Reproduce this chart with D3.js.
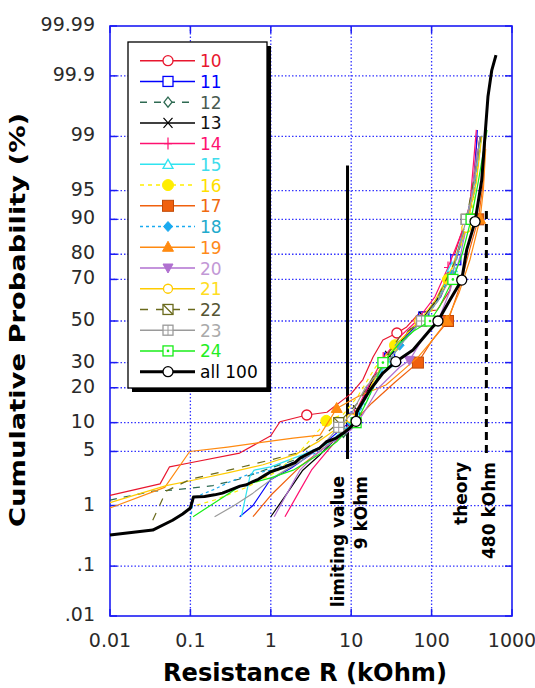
<!DOCTYPE html>
<html>
<head>
<meta charset="utf-8">
<script src="https://cdn.jsdelivr.net/npm/d3@7"></script>
<style>
body { margin: 0; background: #fff; }
text { font-family: "DejaVu Sans", sans-serif; }
</style>
</head>
<body>
<svg id="chart" width="535" height="688"></svg>
<script>
// resistance R in kOhm, cumulative probability in %, third item = symbol drawn on that point
var s10 = [[0.01,1.4],[0.042,2.0],[0.055,3.3],[0.1,3.7],[0.41,4.8],[1.0,7.4],[1.3,10.2],[2.8,11.8,1],[5.0,12.5],[7.9,16],[10,18],[14,23],[18.7,32.5],[24.8,40.5],[37,44,1],[49,47],[72,54.5],[117,55.5],[169,65],[184,78],[230,86],[280,90,1],[330,96],[370,99]];
var s11 = [[0.41,0.68],[0.6,1.0],[0.98,2.25],[1.8,3.2],[3,4.5],[5,6.5],[8,9],[11,11,1],[16,20],[30,32,1],[50,43],[80,52,1],[130,62],[200,78,1],[280,91],[340,96],[370,99.2]];
var s12 = [[0.01,1.2],[0.034,1.6],[0.06,1.65],[0.1,1.75],[0.19,1.9],[0.4,2.3],[1,3.2],[2,4.0],[4,5.5],[8,8,1],[12,12],[20,25],[35,37,1],[60,48],[100,57],[170,72,1],[250,86],[330,94],[400,98.5]];
var s13 = [[1.0,0.68],[1.6,1.5],[2.5,3],[4,4.5],[6,6.5],[9,9],[12,13,1],[18,22],[30,33,1],[50,44],[80,52,1],[130,63],[200,78],[280,90,1],[350,97],[400,99]];
var s14 = [[1.5,0.68],[2.2,1.5],[3.2,3],[5,5],[8,8],[11,12,1],[16,20],[25,32,1],[40,42],[65,50,1],[110,62],[160,75,1],[230,86],[300,93],[360,99.2]];
var s15 = [[0.43,0.68],[0.55,2.5],[0.62,3.0],[1.0,3.3],[2.5,4.6],[5,6],[8,8.5],[11,10,1],[16,18],[28,30,1],[45,40],[75,50,1],[120,60],[180,75,1],[260,88],[340,96],[420,99]];
var s16 = [[0.045,0.5],[0.08,0.75],[0.1,0.95],[0.2,1.2],[0.5,1.8],[1.2,2.9],[2.3,5.0],[4,8.5],[4.9,10.4,1],[8,12],[12,17],[20,28],[35,38,1],[60,47],[100,55],[160,70,1],[250,85],[330,93],[400,98.5]];
var s17 = [[0.6,0.68],[1.0,1.4],[2.3,3.3],[5.5,6.2],[10,9.5],[18,15],[35,22],[67.6,30,1],[100,40],[160,50,1],[230,68],[300,82],[380,90,1],[440,96],[470,99]];
var s18 = [[0.1,0.6],[0.11,1.3],[0.2,1.7],[0.3,2.1],[0.5,2.6],[1,3.0],[2,3.8],[4,5.0],[7,7],[10,10,1],[15,15],[25,27],[40,38,1],[70,48],[110,58],[180,72,1],[260,87],[340,95],[420,99]];
var s19 = [[0.01,0.92],[0.048,1.8],[0.098,5.0],[0.29,5.6],[1.9,7.0],[4.1,7.5],[6.6,13.5,1],[12,17],[27,21],[45,27],[70,33],[100,40],[155,50,1],[220,64],[300,78],[400,90,1],[440,95],[470,98.5]];
var s20 = [[1.1,0.68],[1.6,1.5],[2.3,3],[3.5,4.5],[6,6.5],[10,8.5],[14,12],[22,20],[40,28],[53,31,1],[80,42],[120,50,1],[170,65],[230,80],[300,92],[370,98.5]];
var s21 = [[0.01,1.1],[0.05,1.9],[0.1,2.2],[0.3,2.8],[0.8,3.5],[2,4.6],[4,6.5],[7,9],[10,11,1],[15,17],[25,30,1],[40,40],[70,50,1],[110,60],[180,75],[270,88,1],[360,96],[420,99]];
var s22 = [[0.034,0.6],[0.05,1.6],[0.1,2.3],[0.3,3.0],[1,4.0],[2.5,5],[5,8],[7,10,1],[12,15],[22,28],[40,42],[75,50,1],[120,62],[200,78],[270,90,1],[350,97],[410,99]];
var s23 = [[0.2,0.68],[0.35,1.0],[0.6,1.5],[1.2,2.6],[2.5,4],[4.5,6],[7,9,1],[10,12],[15,20],[25,28],[45,40],[75,50,1],[120,60],[180,72],[270,90,1],[330,95],[400,99]];
var s24 = [[0.108,0.68],[0.2,1.1],[0.41,1.85],[1.0,2.4],[1.9,3.0],[4.4,4.9],[6.6,6.4],[9.7,9.0],[11.5,10,1],[16,16],[20,22],[24.8,30,1],[40,39],[60,45],[95.5,50,1],[125,57],[184,70,1],[240,80],[310,90,1],[380,96],[490,99.2]];
var sAll = [[0.01,0.35],[0.034,0.42],[0.06,0.6],[0.08,0.75],[0.1,0.92],[0.109,1.32],[0.15,1.35],[0.2,1.42],[0.25,1.5],[0.3,1.62],[0.414,1.87],[0.5,1.95],[0.6,2.15],[0.7,2.3],[0.85,2.6],[1.0,2.87],[1.5,3.3],[2.0,3.7],[2.31,4.2],[3.3,5.0],[4.0,5.4],[4.95,6.4],[6.5,7.0],[8.37,8.1],[9.67,8.9],[11.5,10.3,1],[11.7,12.6],[17.1,19.2],[24.8,25.6],[35.8,30.4,1],[58.7,35.7],[95.5,45.5],[120,50,1],[169,60.4],[237,69.7,1],[273,81.5],[347,89.5,1],[420,96.2],[461,99.0],[503,99.77],[559,99.92],[632,99.96]];

var seriesNames = ["10","11","12","13","14","15","16","17","18","19","20","21","22","23","24","all 100"];
var seriesData  = [s10,s11,s12,s13,s14,s15,s16,s17,s18,s19,s20,s21,s22,s23,s24,sAll];

var xTicks = [0.01, 0.1, 1, 10, 100, 1000];
var xTickLabels = ["0.01", "0.1", "1", "10", "100", "1000"];
var yTicks = [0.01, 0.1, 1, 5, 10, 20, 30, 50, 70, 80, 90, 95, 99, 99.9, 99.99];
var yTickLabels = [".01", ".1", "1", "5", "10", "20", "30", "50", "70", "80", "90", "95", "99", "99.9", "99.99"];

// vertical markers: R value, probability span, labels
var refR = [9, 480];
var refSpan = [[4.1, 97.5], [4.8, 92.5]];
var refLabels = [["limiting value", "9 kOhm"], ["theory", "480 kOhm"]];

// styles for each series (same order as seriesNames)
var styles = [
    {color: "#e8162e", text: "#e8162e", dash: null,  sym: "circle"},
    {color: "#0000ff", text: "#0000ff", dash: null,  sym: "square"},
    {color: "#2e6a52", text: "#4a5a50", dash: "7,7", sym: "diamond"},
    {color: "#000000", text: "#111111", dash: null,  sym: "x"},
    {color: "#ff1070", text: "#ff1070", dash: null,  sym: "plus"},
    {color: "#30e4f0", text: "#40dcec", dash: null,  sym: "triangle"},
    {color: "#ffee00", text: "#ffe000", dash: "4,4", sym: "dot"},
    {color: "#f0600e", text: "#f06a10", dash: null,  sym: "fsquare"},
    {color: "#1aaaf0", text: "#22aacc", dash: "3,3", sym: "fdiamond"},
    {color: "#ff8a10", text: "#ff8a1a", dash: null,  sym: "ftriangle"},
    {color: "#b070d0", text: "#c298d6", dash: null,  sym: "itriangle"},
    {color: "#ffcc00", text: "#ffdd22", dash: null,  sym: "ocircle"},
    {color: "#6a6a1c", text: "#555533", dash: "8,8", sym: "slashsquare"},
    {color: "#9a9a9a", text: "#aaaaaa", dash: null,  sym: "crosssquare"},
    {color: "#18ee18", text: "#22ee22", dash: null,  sym: "dotsquare"},
    {color: "#000000", text: "#000000", dash: null,  sym: "circle", width: 3}
];

// inverse normal CDF (Acklam) for the probability axis
function probit(p) {
    var a = [-3.969683028665376e+01, 2.209460984245205e+02, -2.759285104469687e+02, 1.383577518672690e+02, -3.066479806614716e+01, 2.506628277459239e+00];
    var b = [-5.447609879822406e+01, 1.615858368580409e+02, -1.556989798598866e+02, 6.680131188771972e+01, -1.328068155288572e+01];
    var c = [-7.784894002430293e-03, -3.223964580411365e-01, -2.400758277161838e+00, -2.549732539343734e+00, 4.374664141464968e+00, 2.938163982698783e+00];
    var d = [7.784695709041462e-03, 3.224671290700398e-01, 2.445134137142996e+00, 3.754408661907416e+00];
    var pl = 0.02425, q, r;
    if (p < pl) {
        q = Math.sqrt(-2 * Math.log(p));
        return (((((c[0]*q+c[1])*q+c[2])*q+c[3])*q+c[4])*q+c[5]) / ((((d[0]*q+d[1])*q+d[2])*q+d[3])*q+1);
    }
    if (p > 1 - pl) {
        q = Math.sqrt(-2 * Math.log(1 - p));
        return -(((((c[0]*q+c[1])*q+c[2])*q+c[3])*q+c[4])*q+c[5]) / ((((d[0]*q+d[1])*q+d[2])*q+d[3])*q+1);
    }
    q = p - 0.5; r = q * q;
    return (((((a[0]*r+a[1])*r+a[2])*r+a[3])*r+a[4])*r+a[5])*q / (((((b[0]*r+b[1])*r+b[2])*r+b[3])*r+b[4])*r+1);
}

var plotL = 110, plotR = 512, plotT = 26, plotB = 616;
var x = d3.scaleLog().domain([0.01, 1000]).range([plotL, plotR]);
var zScale = d3.scaleLinear().domain([probit(0.0001), probit(0.9999)]).range([plotB, plotT]);
var y = function(p) { return zScale(probit(p / 100)); };

var svg = d3.select("#chart");
var gridColor = "#3434ff", frameColor = "#1c1cf4";

// grid
svg.append("g").selectAll("line.vg")
    .data(xTicks.slice(1, -1)).enter().append("line")
    .attr("x1", function(d){ return x(d); }).attr("x2", function(d){ return x(d); })
    .attr("y1", plotT).attr("y2", plotB)
    .attr("stroke", gridColor).attr("stroke-width", 1.3).attr("stroke-dasharray", "1.5,2");
svg.append("g").selectAll("line.hg")
    .data(yTicks.slice(1, -1)).enter().append("line")
    .attr("y1", function(d){ return y(d); }).attr("y2", function(d){ return y(d); })
    .attr("x1", plotL).attr("x2", plotR)
    .attr("stroke", gridColor).attr("stroke-width", 1.3).attr("stroke-dasharray", "1.5,2");

// ticks inside the frame
var tk = 7;
xTicks.forEach(function(d){
    svg.append("line").attr("x1", x(d)).attr("x2", x(d)).attr("y1", plotB).attr("y2", plotB - tk)
        .attr("stroke", frameColor).attr("stroke-width", 1.5);
    svg.append("line").attr("x1", x(d)).attr("x2", x(d)).attr("y1", plotT).attr("y2", plotT + tk)
        .attr("stroke", frameColor).attr("stroke-width", 1.5);
});
yTicks.forEach(function(d){
    svg.append("line").attr("x1", plotL).attr("x2", plotL + tk).attr("y1", y(d)).attr("y2", y(d))
        .attr("stroke", frameColor).attr("stroke-width", 1.5);
    svg.append("line").attr("x1", plotR).attr("x2", plotR - tk).attr("y1", y(d)).attr("y2", y(d))
        .attr("stroke", frameColor).attr("stroke-width", 1.5);
});

svg.append("rect").attr("x", plotL).attr("y", plotT).attr("width", plotR - plotL).attr("height", plotB - plotT)
    .attr("fill", "none").attr("stroke", frameColor).attr("stroke-width", 1.6);

// tick labels
svg.append("g").selectAll("text")
    .data(xTicks).enter().append("text")
    .attr("x", function(d){ return x(d); }).attr("y", 647)
    .attr("text-anchor", "middle").attr("font-size", 19).attr("fill", "#2a2a2a")
    .text(function(d, i){ return xTickLabels[i]; });
svg.append("g").selectAll("text")
    .data(yTicks).enter().append("text")
    .attr("x", 95).attr("y", function(d){ return y(d) + 5; })
    .attr("text-anchor", "end").attr("font-size", 19).attr("fill", "#2a2a2a")
    .text(function(d, i){ return yTickLabels[i]; });

// axis titles
svg.append("text").attr("x", 305).attr("y", 681).attr("text-anchor", "middle")
    .attr("font-size", 24).attr("font-weight", "bold")
    .attr("textLength", 284).attr("lengthAdjust", "spacingAndGlyphs")
    .text("Resistance R (kOhm)");
svg.append("text").attr("transform", "translate(25,320) rotate(-90)").attr("text-anchor", "middle")
    .attr("font-size", 22).attr("font-weight", "bold")
    .attr("textLength", 414).attr("lengthAdjust", "spacingAndGlyphs")
    .text("Cumulative Probability (%)");

// symbols
function symbol(g, type, color, cx, cy) {
    var s = g.append("g").attr("transform", "translate(" + cx + "," + cy + ")");
    var open = {fill: "#fff", stroke: color, "stroke-width": 1.3};
    var solid = {fill: color, stroke: color, "stroke-width": 1};
    function apply(sel, o) { for (var k in o) sel.attr(k, o[k]); return sel; }
    if (type === "circle") apply(s.append("circle").attr("r", 5), open);
    else if (type === "ocircle") apply(s.append("circle").attr("r", 4.5), open);
    else if (type === "dot") apply(s.append("circle").attr("r", 5.5), solid);
    else if (type === "square" || type === "slashsquare" || type === "crosssquare" || type === "dotsquare") {
        apply(s.append("rect").attr("x", -5).attr("y", -5).attr("width", 10).attr("height", 10), open);
        if (type === "slashsquare") s.append("path").attr("d", "M-5,-5L5,5").attr("stroke", color).attr("stroke-width", 1.2);
        if (type === "crosssquare") s.append("path").attr("d", "M0,-5V5M-5,0H5").attr("stroke", color).attr("stroke-width", 1);
        if (type === "dotsquare") s.append("circle").attr("r", 1.3).attr("fill", color);
    }
    else if (type === "fsquare") apply(s.append("rect").attr("x", -5.5).attr("y", -5.5).attr("width", 11).attr("height", 11), solid).attr("stroke", "#c04a08");
    else if (type === "diamond") apply(s.append("path").attr("d", "M0,-5L4,0L0,5L-4,0Z"), open);
    else if (type === "fdiamond") apply(s.append("path").attr("d", "M0,-5L4.5,0L0,5L-4.5,0Z"), solid);
    else if (type === "triangle") apply(s.append("path").attr("d", "M0,-5L5,4L-5,4Z"), open);
    else if (type === "ftriangle") apply(s.append("path").attr("d", "M0,-6L5.5,4L-5.5,4Z"), solid);
    else if (type === "itriangle") apply(s.append("path").attr("d", "M0,5L5,-4L-5,-4Z"), solid);
    else if (type === "x") s.append("path").attr("d", "M-4.5,-5L4.5,5M4.5,-5L-4.5,5").attr("stroke", color).attr("stroke-width", 1.2);
    else if (type === "plus") s.append("path").attr("d", "M0,-6V6M-4,0H4").attr("stroke", color).attr("stroke-width", 1.2);
}

// reference lines
refR.forEach(function(r, i){
    var ln = svg.append("line").attr("x1", x(r)).attr("x2", x(r))
        .attr("y1", y(refSpan[i][0])).attr("y2", y(refSpan[i][1]))
        .attr("stroke", "#000").attr("stroke-width", 3);
    if (i === 1) ln.attr("stroke-dasharray", "8,5");
});

// series lines
var line = d3.line()
    .x(function(d){ return x(d[0]); })
    .y(function(d){ return y(d[1]); });

seriesData.forEach(function(data, i){
    var st = styles[i];
    var g = svg.append("g").attr("class", "series");
    g.append("path").datum(data)
        .attr("d", line)
        .attr("fill", "none")
        .attr("stroke", st.color)
        .attr("stroke-width", st.width || 1.2)
        .attr("stroke-linejoin", "round")
        .attr("stroke-dasharray", st.dash);
    data.forEach(function(d){
        if (d[2]) symbol(g, st.sym, st.color, x(d[0]), y(d[1]));
    });
});

// reference labels
refR.forEach(function(r, i){
    var offs = i === 0 ? [-4, 19] : [-19, 9];
    var yTop = i === 0 ? 476 : 462;
    refLabels[i].forEach(function(t, j){
        svg.append("text")
            .attr("transform", "translate(" + (x(r) + offs[j]) + "," + yTop + ") rotate(-90)")
            .attr("text-anchor", "end")
            .attr("font-size", 17).attr("font-weight", "bold")
            .text(t);
    });
});

// legend
var lg = svg.append("g");
lg.append("rect").attr("x", 132).attr("y", 46).attr("width", 139).attr("height", 346).attr("fill", "#000");
lg.append("rect").attr("x", 128).attr("y", 42).attr("width", 139).attr("height", 346)
    .attr("fill", "#fff").attr("stroke", "#000").attr("stroke-width", 1.3);

seriesNames.forEach(function(name, i){
    var st = styles[i];
    var ry = 60.7 + i * 20.73;
    lg.append("line").attr("x1", 140).attr("x2", 195).attr("y1", ry).attr("y2", ry)
        .attr("stroke", st.color).attr("stroke-width", st.width || 1.5)
        .attr("stroke-dasharray", st.dash);
    symbol(lg, st.sym, st.color, 168, ry);
    lg.append("text").attr("x", 200).attr("y", ry + 6.5)
        .attr("font-size", 17).attr("fill", st.text)
        .text(name);
});
</script>
</body>
</html>
